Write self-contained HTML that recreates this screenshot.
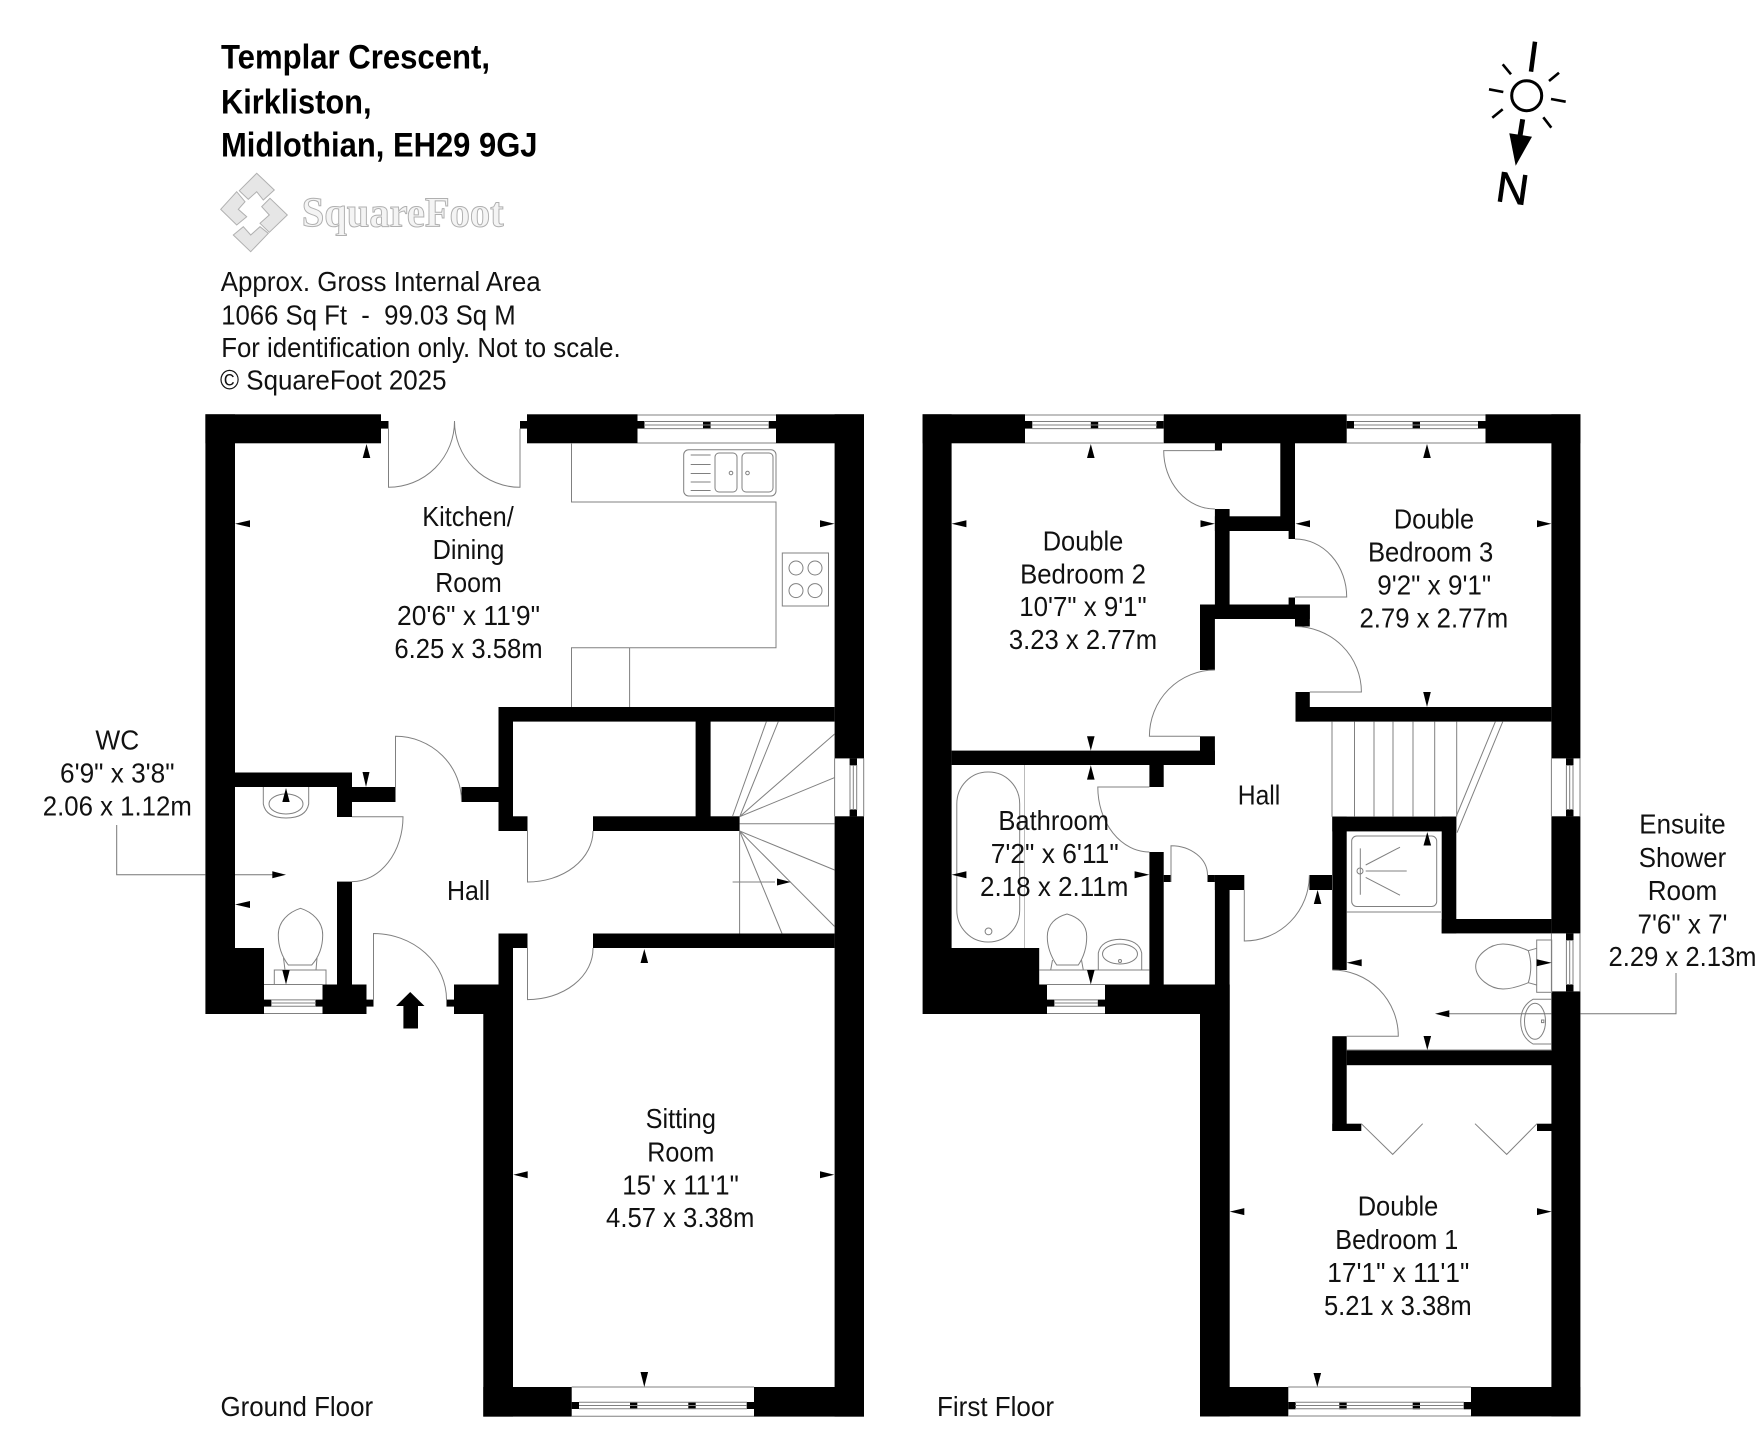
<!DOCTYPE html>
<html lang="en"><head><meta charset="utf-8"><title>Templar Crescent Floor Plan</title>
<style>html,body{margin:0;padding:0;background:#fff}svg{display:block}
text{font-family:"Liberation Sans",sans-serif;fill:#111;font-size:28px;text-anchor:middle}
.l{text-anchor:start}.b{font-weight:bold;font-size:34px;fill:#000}
.ln{fill:none;stroke:#808080;stroke-width:1}.k rect,.k polygon{fill:#000}</style></head><body>
<svg xmlns="http://www.w3.org/2000/svg" width="1760" height="1432" viewBox="0 0 1760 1432">
<rect width="1760" height="1432" fill="#fff"/>
<!-- header -->
<text class="l b" x="221" y="68.5" textLength="269" lengthAdjust="spacingAndGlyphs">Templar Crescent,</text>
<text class="l b" x="221" y="113.3" textLength="150.5" lengthAdjust="spacingAndGlyphs">Kirkliston,</text>
<text class="l b" x="221" y="156.7" textLength="316.5" lengthAdjust="spacingAndGlyphs">Midlothian, EH29 9GJ</text>
<g fill="#e6e6e6" stroke="#b0b0b0" stroke-width="1">
<polygon points="256.7,173.3 274.3,190 263.3,200 256.7,191.7 248.3,199.3 239.3,190.7"/>
<polygon points="236.7,191.7 220.7,209.3 236.7,225 246.7,216.7 238.3,209.3 245,201.7"/>
<polygon points="270,198.3 287.3,215 269.3,232.3 260,223.3 269.3,215 261.7,206.7"/>
<polygon points="250.7,251.7 268.3,233.3 260,226.7 250.7,235 243.3,226.7 233.3,235"/>
</g>
<text class="l" x="301.7" y="226.7" textLength="202" lengthAdjust="spacingAndGlyphs" style="font-family:'Liberation Serif',serif;font-size:42px;fill:#f4f4f4;stroke:#b0b0b0;stroke-width:1;font-weight:bold">SquareFoot</text>
<text class="l" x="220.7" y="291.2" textLength="320" lengthAdjust="spacingAndGlyphs">Approx. Gross Internal Area</text>
<text class="l" x="221.2" y="324.5" textLength="294.5" lengthAdjust="spacingAndGlyphs" xml:space="preserve">1066 Sq Ft  -  99.03 Sq M</text>
<text class="l" x="221.2" y="356.8" textLength="399.5" lengthAdjust="spacingAndGlyphs">For identification only. Not to scale.</text>
<text class="l" x="220" y="389.5" textLength="226.5" lengthAdjust="spacingAndGlyphs">© SquareFoot 2025</text>
<!-- compass -->
<g stroke="#000" fill="none" stroke-linecap="butt">
<circle cx="1526.7" cy="95.7" r="15" stroke-width="3"/>
<line x1="1535" y1="41.7" x2="1531" y2="71.7" stroke-width="4.5"/>
<g stroke-width="2.6"><line x1="1502.7" y1="64.3" x2="1511" y2="74.3"/><line x1="1559" y1="72.7" x2="1549" y2="81"/><line x1="1489" y1="89.3" x2="1503.3" y2="92"/><line x1="1551" y1="99" x2="1565.7" y2="101.7"/><line x1="1502.7" y1="109.3" x2="1492.3" y2="117.7"/><line x1="1543.3" y1="117.3" x2="1551.3" y2="127.7"/></g>
<line x1="1522.7" y1="119.3" x2="1520" y2="136" stroke-width="5"/>
</g>
<polygon points="1509.3,133.3 1532,136.7 1515.7,165.7" fill="#000"/>
<text transform="translate(1510.5,203) rotate(8) scale(1.05,1)" x="0" y="0" style="font-size:43px;fill:#000;stroke:#000;stroke-width:.6">N</text>
<!-- walls -->
<g class="k">
<!-- ground -->
<rect x="205.4" y="414.3" width="29.6" height="599.7"/><rect x="205.4" y="414.3" width="175.6" height="29"/>
<rect x="381" y="421" width="7.5" height="7.6"/><rect x="520" y="421" width="7" height="7.6"/>
<rect x="527" y="414.3" width="110.5" height="29"/><rect x="776" y="414.3" width="88" height="29"/>
<rect x="637.5" y="421" width="7" height="7.6"/><rect x="703" y="421" width="7.6" height="7.6"/><rect x="768.7" y="421" width="7.3" height="7.6"/>
<rect x="834.6" y="414.3" width="29.4" height="344.1"/><rect x="834.6" y="816.3" width="29.4" height="600.3"/>
<rect x="849.6" y="758.4" width="7.4" height="7"/><rect x="849.6" y="809.4" width="7.4" height="7"/>
<rect x="498.5" y="707" width="336" height="14.6"/><rect x="498.5" y="707" width="14.5" height="124"/><rect x="498.5" y="816.3" width="29" height="14.7"/>
<rect x="695.6" y="721" width="15" height="96"/><rect x="593" y="816.3" width="146.6" height="14.7"/>
<rect x="461.5" y="787" width="37" height="15"/><rect x="234.9" y="772.5" width="117.1" height="14.5"/>
<rect x="337" y="787" width="58.5" height="15"/><rect x="337" y="787" width="15" height="30"/><rect x="337" y="881.6" width="15" height="103"/>
<rect x="235" y="948" width="29" height="66"/><rect x="264" y="999.6" width="7.4" height="7"/><rect x="315.4" y="999.6" width="7.1" height="7"/>
<rect x="322.5" y="984.5" width="44" height="29.5"/><rect x="366.5" y="999.6" width="7" height="7"/><rect x="446.5" y="999.6" width="7.5" height="7"/>
<rect x="454" y="984.5" width="44.5" height="29.5"/><rect x="498.5" y="933.5" width="14.5" height="70"/><rect x="483.3" y="1000" width="29.7" height="416.6"/>
<rect x="498.5" y="933.5" width="29" height="14.5"/><rect x="593" y="933.5" width="241.6" height="14.5"/>
<rect x="483.3" y="1387" width="88.4" height="29.6"/><rect x="754" y="1387" width="110" height="29.6"/>
<rect x="571.7" y="1402" width="7.3" height="7"/><rect x="630" y="1402" width="7.3" height="7"/><rect x="688.3" y="1402" width="7.4" height="7"/><rect x="746.7" y="1402" width="7.3" height="7"/>
<polygon points="410.2,992 396,1006 403.4,1006 403.4,1028.5 418,1028.5 418,1006 424.5,1006"/>
<!-- first -->
<rect x="922.6" y="414.3" width="29" height="599.7"/><rect x="922.6" y="414.3" width="102.4" height="29"/>
<rect x="1163.7" y="414.3" width="183" height="29"/><rect x="1485.5" y="414.3" width="94.9" height="29"/>
<rect x="1025" y="421" width="7.3" height="7.6"/><rect x="1090.8" y="421" width="7.4" height="7.6"/><rect x="1156.3" y="421" width="7.4" height="7.6"/>
<rect x="1346.7" y="421" width="7.3" height="7.6"/><rect x="1412.6" y="421" width="7.4" height="7.6"/><rect x="1478" y="421" width="7.5" height="7.6"/>
<rect x="1551.4" y="414.3" width="29" height="344.1"/><rect x="1551.4" y="816.3" width="29" height="117.1"/><rect x="1551.4" y="991.4" width="29" height="425"/>
<rect x="1566" y="758.4" width="7.5" height="7"/><rect x="1566" y="809.4" width="7.5" height="7"/><rect x="1566" y="933.4" width="7.5" height="7"/><rect x="1566" y="984.4" width="7.5" height="7"/>
<rect x="1214.9" y="443" width="7.1" height="7.6"/><rect x="1280.3" y="443" width="14.7" height="88"/><rect x="1288.6" y="531" width="6.4" height="8"/>
<rect x="1214.9" y="516.3" width="80.1" height="14.7"/><rect x="1214.9" y="509" width="14.7" height="110"/>
<rect x="1200" y="604.5" width="109.8" height="14.5"/><rect x="1288.6" y="597.5" width="6.4" height="7"/><rect x="1295" y="604.5" width="14.8" height="22"/>
<rect x="1200" y="604.5" width="14.9" height="65.5"/><rect x="1200" y="736.3" width="14.9" height="28.7"/>
<rect x="951.6" y="750.6" width="263.3" height="14.4"/><rect x="1149.4" y="765" width="14.3" height="22"/>
<rect x="1295.5" y="707" width="255.9" height="14.6"/><rect x="1295.5" y="692" width="14.3" height="29.6"/>
<rect x="1149.4" y="852" width="14.3" height="132.5"/><rect x="1163.7" y="875" width="7.3" height="7"/><rect x="1207.5" y="875" width="7.4" height="7"/>
<rect x="1214.9" y="875" width="29.4" height="15"/><rect x="1214.9" y="875" width="14.7" height="145"/><rect x="1200" y="984.5" width="29.7" height="432"/>
<rect x="951" y="948" width="88.2" height="66"/><rect x="1039" y="984.5" width="8" height="29.5"/><rect x="1105" y="984.5" width="110" height="29.5"/>
<rect x="1047" y="999.6" width="7.4" height="7"/><rect x="1097.8" y="999.6" width="7.2" height="7"/>
<rect x="1309.4" y="875" width="22.6" height="15"/><rect x="1332.3" y="816.6" width="14.4" height="153.4"/><rect x="1332.3" y="816.6" width="124" height="14.8"/>
<rect x="1441.7" y="816.6" width="14.6" height="116.8"/><rect x="1441.7" y="919" width="109.7" height="14.4"/>
<rect x="1332.3" y="1036.2" width="14.4" height="94.8"/><rect x="1346.7" y="1050.3" width="205" height="14.9"/>
<rect x="1332.3" y="1123.7" width="29" height="7.3"/><rect x="1537" y="1123.7" width="14.7" height="7.3"/>
<rect x="1200" y="1387" width="88.3" height="29.4"/><rect x="1471" y="1387" width="109.3" height="29.4"/>
<rect x="1288.3" y="1402" width="7.4" height="7.3"/><rect x="1339.3" y="1402" width="7.4" height="7.3"/><rect x="1412.7" y="1402" width="7.3" height="7.3"/><rect x="1463.7" y="1402" width="7.3" height="7.3"/>
</g>
<!-- thin lines -->
<g class="ln">
<!-- window frames -->
<path d="M637.5 415H776M637.5 443H776M644 421.5H769M644 425H769M644 428.6H769"/>
<path d="M1025 415H1163.7M1025 443H1163.7M1032 421.5H1157M1032 425H1157M1032 428.6H1157"/>
<path d="M1346.7 415H1485.5M1346.7 443H1485.5M1354 421.5H1478M1354 425H1478M1354 428.6H1478"/>
<path d="M264 984.5H322.5M264 1013.5H322.5M271 999.9H316M271 1003H316M271 1006.3H316"/>
<path d="M1047 984.5H1105M1047 1013.5H1105M1054 999.9H1098M1054 1003H1098M1054 1006.3H1098"/>
<path d="M571.7 1387H754M571.7 1416.2H754M579 1402.3H747M579 1405.5H747M579 1408.8H747"/>
<path d="M1288.3 1387H1471M1288.3 1416H1471M1295 1402.3H1464M1295 1405.5H1464M1295 1408.8H1464"/>
<path d="M834.6 758.4V816.3M863.7 758.4V816.3M850 765V810M853.3 765V810M856.7 765V810"/>
<path d="M1551.4 758.4V816.3M1580 758.4V816.3M1566.4 765V810M1569.7 765V810M1573 765V810"/>
<path d="M1551.4 933.4V991.4M1580 933.4V991.4M1566.4 940V985M1569.7 940V985M1573 940V985"/>
<!-- ground doors -->
<path d="M388.5 428.6V487.3A66 66 0 0 0 454.5 421M520 428.6V487.3A65.5 66 0 0 1 454.5 421"/>
<path d="M395.5 787V736.3A66 65 0 0 1 461.5 802"/>
<path d="M352 816.7H403A51 65 0 0 1 352 881.6"/>
<path d="M527.5 831V882A65.5 51 0 0 0 593 831"/>
<path d="M527.5 948V999.6A65.5 51 0 0 0 593 948"/>
<path d="M373.5 999.6V933.5A73 66 0 0 1 446.5 1000"/>
<!-- kitchen units -->
<path d="M571.5 443V502H776V647.8H571.5V707M629.6 647.8V707"/>
<rect x="683.7" y="449.8" width="92.3" height="46.2" rx="5"/><rect x="715" y="453" width="22" height="39" rx="4"/><rect x="742" y="453" width="31" height="39" rx="4"/>
<path d="M690.7 455H710.6M690.7 464.5H710.6M690.7 473.5H710.6M690.7 482H710.6M690.7 490.5H710.6"/>
<circle cx="731" cy="473" r="1.8"/><circle cx="747.5" cy="473" r="1.8"/>
<rect x="782.3" y="553" width="46.2" height="53"/><circle cx="796" cy="568" r="7"/><circle cx="815" cy="568" r="7"/><circle cx="796" cy="590.6" r="7"/><circle cx="815" cy="590.6" r="7"/>
<!-- ground stairs -->
<path d="M732.6 816L766.4 721.6M740 816L778.3 721.6M739.6 816.7L834.6 734M739.6 816.7L834.6 777.6M739.6 823.7H834.6M739.6 831L834.6 870M739.6 831L834.6 926.5M739.6 831L782 933.5M739.6 831V933.5M732.6 882H775"/>
<!-- WC fixtures -->
<path d="M263.3 787V804Q266 818 286 818Q306 818 308.7 804V787"/>
<ellipse cx="286" cy="804" rx="17" ry="10"/>
<path d="M288.3 965H311.7C318 958 322.7 948 322.7 935C322.7 921 312 912 300.5 908.3C289 912 278.3 921 278.3 935C278.3 948 283 958 288.3 965Z"/>
<path d="M283.5 958L285 970M317 958L316 970"/>
<path d="M274.3 984.5V970H326V984.5"/>
<!-- first doors -->
<path d="M1214.9 450.6H1163.7A51.2 58.4 0 0 0 1214.9 509"/>
<path d="M1295 539A51.7 58 0 0 1 1346.7 597H1295"/>
<path d="M1295 626.5A66.4 65.5 0 0 1 1361.4 692H1309.8"/>
<path d="M1214.9 670A65.5 66.3 0 0 0 1149.4 736.3H1200"/>
<path d="M1149.4 787H1097.8A51.6 65 0 0 0 1149.4 852"/>
<path d="M1171 882V845.7A36.5 29.3 0 0 1 1207.5 875"/>
<path d="M1244.3 890V941A65.1 66 0 0 0 1309.4 875"/>
<path d="M1332.3 970A66 66.2 0 0 1 1398.3 1036.2H1346.7"/>
<path d="M1361.3 1123.7L1392.7 1154.4L1422.7 1123.7M1475 1123.7L1506.7 1154.4L1537 1123.7"/>
<!-- first stairs -->
<path d="M1332 721.6V816.7M1354.5 721.6V816.7M1374 721.6V816.7M1393 721.6V816.7M1413 721.6V816.7M1434.7 721.6V816.7M1456.7 721.6V816.7"/>
<path d="M1456.4 816L1495.4 721.6M1457 832.7L1502.8 721.6"/>
<!-- bathroom -->
<rect x="956.8" y="772" width="62.9" height="170" rx="31" ry="32"/><circle cx="988.5" cy="931.4" r="3.4"/>
<path d="M1024.5 765V948" stroke="#bbb"/>
<path d="M1039 970H1149.4"/>
<path d="M1056.7 965H1078.3C1083 958 1086.7 948 1086.7 936.7C1086.7 924 1078 917 1067 914C1056 917 1047.3 924 1047.3 936.7C1047.3 948 1052 958 1056.7 965Z"/>
<path d="M1052.5 960L1050.7 970M1081.5 960L1083.3 970"/>
<path d="M1098.3 970V953Q1101 940 1120 939.3Q1139 940 1141.7 953V970"/><ellipse cx="1120" cy="954" rx="17.5" ry="10"/><circle cx="1120" cy="961" r="1.5"/>
<!-- ensuite -->
<rect x="1351.7" y="836" width="85" height="70.5" rx="5"/><circle cx="1360" cy="871" r="3"/>
<path d="M1360.3 848.4V894.8M1365.7 865L1400 847.2M1365.7 871H1406.7M1365.7 877.4L1400 895.2M1346.7 912H1441"/>
<path d="M1528.3 950.7C1518 946 1510 944 1503 944C1490 944 1475.7 955 1475.7 966.5C1475.7 978 1490 989 1503 989C1510 989 1518 987 1528.3 982.7Q1533.3 966.5 1528.3 950.7Z"/>
<path d="M1528.3 950.7L1536.7 948.3M1528.3 982.7L1536.7 985"/>
<rect x="1536.7" y="940" width="15" height="52.3"/>
<path d="M1551.7 999.3H1533Q1520.7 1006 1520.7 1021.5Q1520.7 1037 1533 1044H1551.7"/><ellipse cx="1535" cy="1021.3" rx="10.5" ry="18"/><rect x="1541.5" y="1020" width="2.4" height="2.6"/>
<path d="M1346.7 1050H1551.7"/>
</g>
<!-- leader lines -->
<g fill="none" stroke="#777" stroke-width="1">
<path d="M116.7 825V874.7H205.4M235 874.7H273"/>
<path d="M1449 1013.8H1551.4M1580.4 1013.8H1676V973"/>
</g>
<!-- arrowheads -->
<g class="k">
<polygon points="272.3,871.2 286,874.7 272.3,878.2"/><polygon points="1435,1013.8 1449.3,1010.3 1449.3,1017.3"/>
<polygon points="790.7,882 777,878.5 777,885.5"/>
<polygon points="366.5,444 362.7,458 370.3,458"/><polygon points="235,523.7 250,520.2 250,527.2"/><polygon points="834.6,523.7 820,520.2 820,527.2"/>
<polygon points="366,787 362.5,772 369.5,772"/><polygon points="286,788 282.3,802 289.7,802"/><polygon points="286,984.5 282.3,970 289.7,970"/><polygon points="235,904.5 250,901 250,908"/>
<polygon points="644.3,949 640.5,963 648.1,963"/><polygon points="513.3,1174.8 527.7,1171.3 527.7,1178.3"/><polygon points="834.3,1174.8 820,1171.3 820,1178.3"/><polygon points="644.3,1387 640.5,1372 648.1,1372"/>
<polygon points="1090.8,444 1087,458 1094.6,458"/><polygon points="1427,444 1423.2,458 1430.8,458"/>
<polygon points="951.6,523.7 966.4,520.2 966.4,527.2"/><polygon points="1214.9,523.7 1200.5,520.2 1200.5,527.2"/>
<polygon points="1295.5,523.7 1310,520.2 1310,527.2"/><polygon points="1551.4,523.7 1537,520.2 1537,527.2"/>
<polygon points="1427,707 1423.2,692 1430.8,692"/><polygon points="1090.8,750.6 1087,736.3 1094.6,736.3"/><polygon points="1090.8,765.3 1087,779.6 1094.6,779.6"/>
<polygon points="951.6,874.7 966.4,871.2 966.4,878.2"/><polygon points="1149.4,874.7 1134.6,871.2 1134.6,878.2"/><polygon points="1090.8,984.5 1087,970 1094.6,970"/>
<polygon points="1317.6,890 1313.8,904 1321.4,904"/><polygon points="1427.3,832 1423.5,845.5 1431.1,845.5"/>
<polygon points="1346.7,962.8 1361.7,959.3 1361.7,966.3"/><polygon points="1551.7,962.8 1536.7,959.3 1536.7,966.3"/><polygon points="1427.3,1050 1423.5,1036 1431.1,1036"/>
<polygon points="1229.7,1211.6 1244.3,1208.1 1244.3,1215.1"/><polygon points="1551.7,1211.6 1537,1208.1 1537,1215.1"/><polygon points="1317.3,1387 1313.5,1373 1321.1,1373"/>
</g>
<!-- labels -->
<text x="468" y="526" textLength="91.5" lengthAdjust="spacingAndGlyphs">Kitchen/</text>
<text x="468.5" y="559" textLength="71.7" lengthAdjust="spacingAndGlyphs">Dining</text>
<text x="468.5" y="592" textLength="66.4" lengthAdjust="spacingAndGlyphs">Room</text>
<text x="468.5" y="625" textLength="143" lengthAdjust="spacingAndGlyphs">20'6" x 11'9"</text>
<text x="468.5" y="658" textLength="148.3" lengthAdjust="spacingAndGlyphs">6.25 x 3.58m</text>
<text x="468.5" y="900" textLength="43" lengthAdjust="spacingAndGlyphs">Hall</text>
<text x="117.3" y="749.5" textLength="43.8" lengthAdjust="spacingAndGlyphs">WC</text>
<text x="117.3" y="782.5" textLength="114.5" lengthAdjust="spacingAndGlyphs">6'9" x 3'8"</text>
<text x="117.3" y="815.5" textLength="149" lengthAdjust="spacingAndGlyphs">2.06 x 1.12m</text>
<text x="680.8" y="1128" textLength="70.3" lengthAdjust="spacingAndGlyphs">Sitting</text>
<text x="680.8" y="1161.5" textLength="67" lengthAdjust="spacingAndGlyphs">Room</text>
<text x="680.5" y="1194.5" textLength="116.6" lengthAdjust="spacingAndGlyphs">15' x 11'1"</text>
<text x="680.2" y="1227" textLength="148.3" lengthAdjust="spacingAndGlyphs">4.57 x 3.38m</text>
<text class="l" x="220.5" y="1416" textLength="152.6" lengthAdjust="spacingAndGlyphs">Ground Floor</text>
<text class="l" x="937" y="1416" textLength="117" lengthAdjust="spacingAndGlyphs">First Floor</text>
<text x="1083" y="550.5" textLength="80.6" lengthAdjust="spacingAndGlyphs">Double</text>
<text x="1083" y="583.5" textLength="125.8" lengthAdjust="spacingAndGlyphs">Bedroom 2</text>
<text x="1083" y="616.2" textLength="127.5" lengthAdjust="spacingAndGlyphs">10'7" x 9'1"</text>
<text x="1083" y="649" textLength="148.3" lengthAdjust="spacingAndGlyphs">3.23 x 2.77m</text>
<text x="1434" y="528.5" textLength="80.2" lengthAdjust="spacingAndGlyphs">Double</text>
<text x="1430.6" y="561.5" textLength="125.3" lengthAdjust="spacingAndGlyphs">Bedroom 3</text>
<text x="1434.2" y="594.5" textLength="114" lengthAdjust="spacingAndGlyphs">9'2" x 9'1"</text>
<text x="1433.8" y="627.3" textLength="148.7" lengthAdjust="spacingAndGlyphs">2.79 x 2.77m</text>
<text x="1053.7" y="830.2" textLength="110.6" lengthAdjust="spacingAndGlyphs">Bathroom</text>
<text x="1054.7" y="863" textLength="128" lengthAdjust="spacingAndGlyphs">7'2" x 6'11"</text>
<text x="1054.2" y="896" textLength="148.3" lengthAdjust="spacingAndGlyphs">2.18 x 2.11m</text>
<text x="1259" y="804.5" textLength="42.5" lengthAdjust="spacingAndGlyphs">Hall</text>
<text x="1398" y="1215.5" textLength="80.6" lengthAdjust="spacingAndGlyphs">Double</text>
<text x="1396.8" y="1249" textLength="123" lengthAdjust="spacingAndGlyphs">Bedroom 1</text>
<text x="1398.3" y="1282" textLength="142" lengthAdjust="spacingAndGlyphs">17'1" x 11'1"</text>
<text x="1397.8" y="1315.2" textLength="147.7" lengthAdjust="spacingAndGlyphs">5.21 x 3.38m</text>
<text x="1682.5" y="833.5" textLength="86.4" lengthAdjust="spacingAndGlyphs">Ensuite</text>
<text x="1682.5" y="867" textLength="87.5" lengthAdjust="spacingAndGlyphs">Shower</text>
<text x="1682.5" y="900" textLength="69.6" lengthAdjust="spacingAndGlyphs">Room</text>
<text x="1682.5" y="933.3" textLength="90" lengthAdjust="spacingAndGlyphs">7'6" x 7'</text>
<text x="1682.5" y="966" textLength="148" lengthAdjust="spacingAndGlyphs">2.29 x 2.13m</text>
</svg>
</body></html>
